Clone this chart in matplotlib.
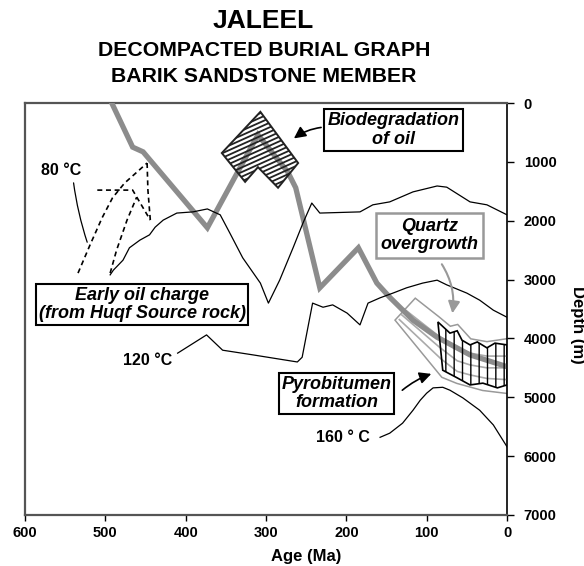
import matplotlib
matplotlib.use("Agg")
import numpy as np
import matplotlib.pyplot as plt
from matplotlib.patches import Polygon
from matplotlib.lines import Line2D

plt.rcParams['font.family'] = ['Liberation Sans', 'DejaVu Sans']

# burial curve of the Barik sandstone (age Ma, decompacted depth m)
burial_age = [492, 466, 453, 373, 310, 273, 263, 233, 185, 162, 146, 117, 87, 46, 0]
burial_depth = [0, 750, 830, 2120, 540, 1170, 1440, 3140, 2460, 3060, 3300, 3690, 3980, 4280, 4480]

# isotherms
iso80_age = [494, 490, 478, 470, 457, 445, 438, 428, 411, 391, 373, 357, 345, 329, 307, 297,
             283, 266, 254, 243, 233, 183, 167, 146, 117, 87, 75, 46, 25, 0]
iso80_depth = [2920, 2840, 2670, 2460, 2330, 2240, 2110, 1990, 1870, 1850, 1800, 1900, 2210, 2630, 3060, 3400,
               3010, 2450, 2040, 1700, 1870, 1850, 1730, 1680, 1510, 1410, 1430, 1680, 1730, 1900]
iso120_age = [410, 374, 354, 316, 261, 255, 242, 229, 217, 199, 183, 173, 158, 142, 125, 105,
              87, 75, 50, 34, 17, 0]
iso120_depth = [4250, 3940, 4200, 4280, 4400, 4320, 3400, 3470, 3430, 3570, 3770, 3400, 3310, 3230, 3140, 3060,
                3010, 3090, 3230, 3350, 3520, 3640]
iso160_age = [158, 146, 130, 117, 108, 100, 92, 80, 71, 55, 34, 17, 0]
iso160_depth = [5680, 5610, 5440, 5220, 5050, 4930, 4840, 4830, 4880, 5010, 5220, 5470, 5840]

# early oil charge paths (dashed)
charge1_age = [534, 519, 504, 491, 476, 448]
charge1_depth = [2890, 2410, 1950, 1610, 1360, 1020]
charge2_age = [510, 466, 444]
charge2_depth = [1480, 1480, 1990]
charge3_age = [448, 447, 444]
charge3_depth = [1020, 1480, 1990]
charge4_age = [494, 486, 473, 461]
charge4_depth = [2890, 2500, 1990, 1600]

# biodegradation zone
bio_age = [307, 260, 285, 310, 326, 355]
bio_depth = [150, 1020, 1440, 1090, 1340, 850]

# quartz overgrowth envelope and inner horizons
qtz_age = [114, 86, 71, 62, 46, 25, 0, 0, 30, 62, 80, 137]
qtz_depth = [3350, 3650, 3820, 3790, 4030, 4080, 4030, 4910, 4860, 4740, 4640, 3690]
hor1_age = [128, 86, 62, 46, 25, 0]
hor1_depth = [3500, 3950, 4150, 4250, 4300, 4300]
hor2_age = [131, 84, 62, 46, 25, 0]
hor2_depth = [3600, 4150, 4380, 4450, 4500, 4500]
hor3_age = [134, 82, 62, 46, 25, 0]
hor3_depth = [3680, 4350, 4560, 4620, 4680, 4700]

# pyrobitumen zone
pyro_age = [86, 71, 62, 56, 46, 37, 25, 15, 0, 0, 12, 30, 46, 62, 80]
pyro_depth = [3720, 3910, 3870, 4030, 4110, 4060, 4160, 4080, 4110, 4790, 4840, 4760, 4790, 4670, 4540]

age_ticks = [600, 500, 400, 300, 200, 100, 0]
depth_ticks = [0, 1000, 2000, 3000, 4000, 5000, 6000, 7000]

fig = plt.figure(figsize=(5.84, 5.66), dpi=100)
ax = fig.add_axes([25 / 584, 1 - 515 / 566, 482 / 584, 412 / 566])
ax.set_xlim(600, 0)
ax.set_ylim(7000, 0)

# quartz envelope (double gray outline)
qpts = np.column_stack([qtz_age, qtz_depth])
ax.add_patch(Polygon(qpts, closed=True, facecolor='white', edgecolor='#999999', lw=3.2, zorder=2))
ax.add_patch(Polygon(qpts, closed=True, facecolor='white', edgecolor='white', lw=1.0, zorder=2))
for a, d in [(hor1_age, hor1_depth), (hor2_age, hor2_depth), (hor3_age, hor3_depth)]:
    ax.plot(a, d, color='#aaaaaa', lw=1.2, zorder=3)

ax.plot(burial_age, burial_depth, color='#8c8c8c', lw=3.8, solid_joinstyle='miter', zorder=3)

for a, d in [(iso80_age, iso80_depth), (iso120_age, iso120_depth), (iso160_age, iso160_depth)]:
    ax.plot(a, d, color='black', lw=0.9, zorder=4)

for a, d in [(charge1_age, charge1_depth), (charge2_age, charge2_depth),
             (charge3_age, charge3_depth), (charge4_age, charge4_depth)]:
    ax.plot(a, d, color='black', lw=1.2, dashes=(3, 2.2), zorder=4)

# pyrobitumen hatch
plt.rcParams['hatch.linewidth'] = 1.0
ax.add_patch(Polygon(np.column_stack([pyro_age, pyro_depth]), closed=True, facecolor='none',
                     edgecolor='black', lw=1.2, hatch='||', zorder=5))

# biodegradation hatch (shallow diagonal lines)
bio = Polygon(np.column_stack([bio_age, bio_depth]), closed=True, facecolor='none',
              edgecolor='#222222', lw=1.4, zorder=6)
ax.add_patch(bio)
slope = 0.45 * 482 / 412
for b in np.arange(-0.8, 1.2, 4.6 / 412):
    ln = Line2D([0, 1], [b, b + slope], transform=ax.transAxes, color='#222222', lw=1.3, zorder=6)
    ln.set_clip_path(bio)
    ax.add_line(ln)

# text boxes
boxfont = dict(fontsize=13, fontweight='bold', fontstyle='italic', ha='center', va='center',
               linespacing=1.1, zorder=8)
ax.text(141, 460, 'Biodegradation\nof oil',
        bbox=dict(boxstyle='square,pad=0.2', fc='white', ec='black', lw=1.5), **boxfont)
ax.text(96, 2250, 'Quartz\novergrowth',
        bbox=dict(boxstyle='square,pad=0.25', fc='white', ec='#999999', lw=1.8), **boxfont)
ax.text(454, 3425, 'Early oil charge\n(from Huqf Source rock)',
        bbox=dict(boxstyle='square,pad=0.15', fc='white', ec='black', lw=1.5), **boxfont)
ax.text(212, 4935, 'Pyrobitumen\nformation',
        bbox=dict(boxstyle='square,pad=0.15', fc='white', ec='black', lw=1.5), **boxfont)

ax.annotate('', xy=(268, 630), xytext=(228, 410),
            arrowprops=dict(arrowstyle='-|>,head_length=0.7,head_width=0.35', color='black', lw=1.2,
                            connectionstyle='arc3,rad=0.15'), zorder=8)
ax.annotate('', xy=(68.5, 3620), xytext=(83, 2700),
            arrowprops=dict(arrowstyle='-|>,head_length=0.7,head_width=0.35', color='#999999', lw=1.5,
                            connectionstyle='arc3,rad=-0.2'), zorder=8)
ax.annotate('', xy=(91, 4587), xytext=(133, 4910),
            arrowprops=dict(arrowstyle='-|>,head_length=0.7,head_width=0.35', color='black', lw=1.2,
                            connectionstyle='arc3,rad=-0.1'), zorder=8)

# isotherm labels
lab = dict(fontsize=11.5, fontweight='bold', ha='center', va='center', zorder=8)
ax.text(555, 1140, '80 °C', **lab)
ax.annotate('', xy=(521.5, 2410), xytext=(540, 1310),
            arrowprops=dict(arrowstyle='-', color='black', lw=0.9, connectionstyle='arc3,rad=0.05'))
ax.text(447, 4370, '120 °C', **lab)
ax.text(204, 5690, '160 ° C', **lab)

# axes styling
ax.yaxis.tick_right()
ax.set_xticks(age_ticks)
ax.set_yticks(depth_ticks)
ax.tick_params(axis='x', length=4, width=1, labelsize=10.5, pad=4)
ax.tick_params(axis='y', length=5, width=1, labelsize=10.5, pad=7)
for t in ax.get_xticklabels() + ax.get_yticklabels():
    t.set_fontweight('bold')
for s in ['left', 'top', 'bottom']:
    ax.spines[s].set_color('#555555')
    ax.spines[s].set_linewidth(1.6)
ax.spines['right'].set_linewidth(1.2)

fig.text(306 / 584, 1 - 557 / 566, 'Age (Ma)', fontsize=12, fontweight='bold', ha='center', va='center')
fig.text(577 / 584, 1 - 325 / 566, 'Depth (m)', fontsize=12, fontweight='bold', ha='center', va='center',
         rotation=270)

fig.text(263 / 584, 1 - 21 / 566, 'JALEEL', fontsize=19, fontweight='bold', ha='center', va='center')
fig.text(264 / 584, 1 - 50 / 566, 'DECOMPACTED BURIAL GRAPH', fontsize=15.3, fontweight='bold',
         ha='center', va='center')
fig.text(264 / 584, 1 - 77 / 566, 'BARIK SANDSTONE MEMBER', fontsize=15.3, fontweight='bold',
         ha='center', va='center')

fig.savefig('out.png', dpi=100)
